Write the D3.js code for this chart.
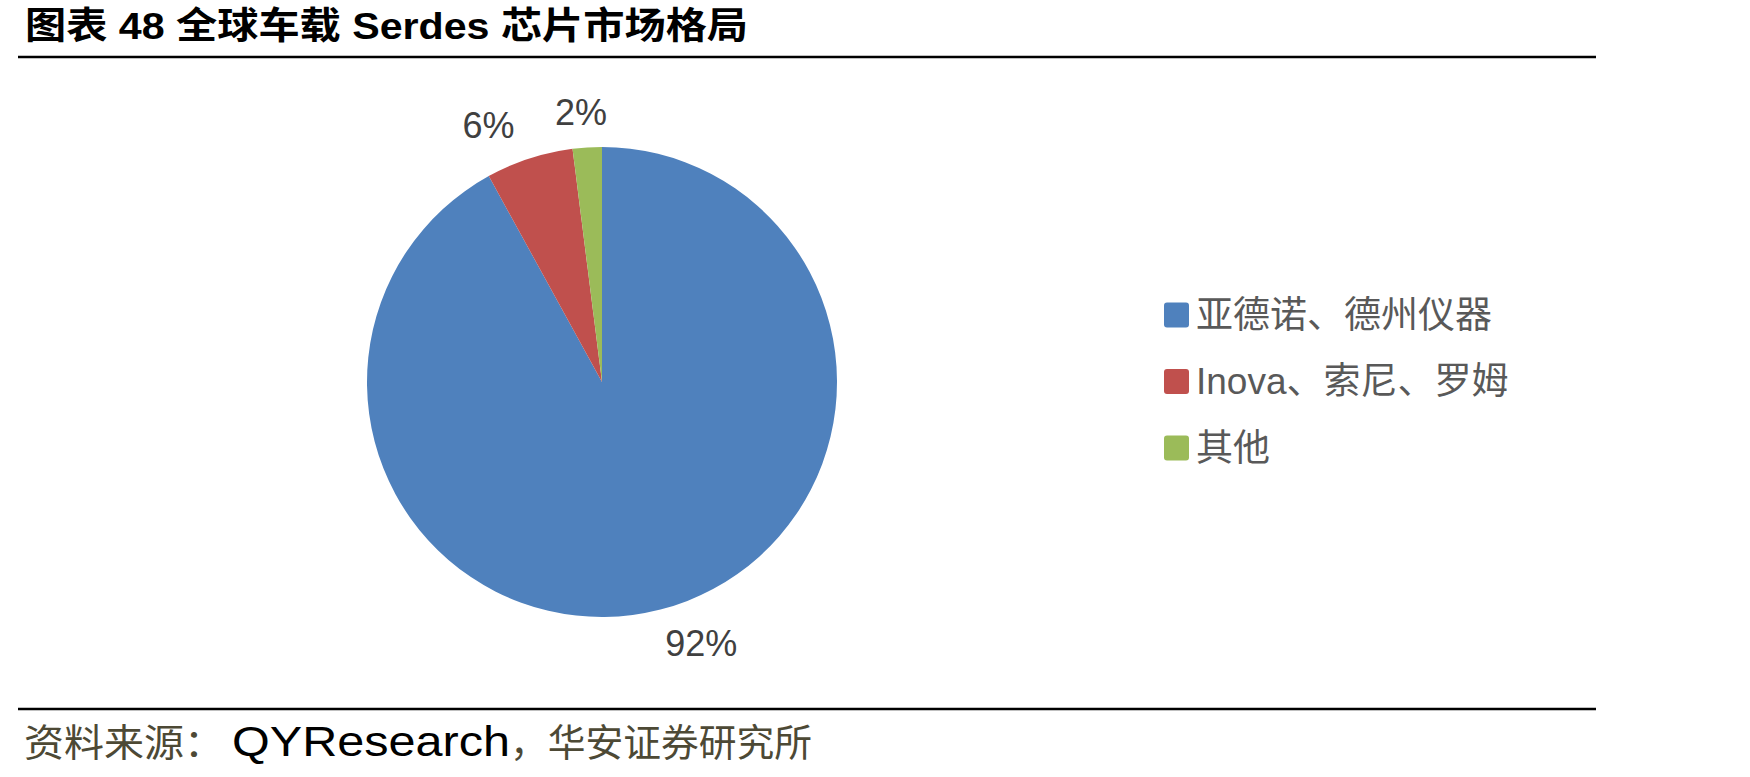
<!DOCTYPE html>
<html lang="zh">
<head>
<meta charset="UTF-8">
<title>全球车载 Serdes 芯片市场格局</title>
<style>
  body { margin: 0; background: #fff; }
  svg text { font-family: "Liberation Sans", Arial, "Noto Sans CJK SC", sans-serif; }
</style>
</head>
<body>
<div id="chart"></div>
<script src="https://d3js.org/d3.v7.min.js"></script>
<script>
// data
const categories = ["亚德诺、德州仪器", "Inova、索尼、罗姆", "其他"];
const shares = [92, 6, 2];
const colors = ["#4F81BD", "#C0504D", "#9BBB59"];
const titleText = "图表 48 全球车载 Serdes 芯片市场格局";
const sourceParts = ["资料来源：", "QYResearch", "，华安证券研究所"];

const W = 1750, H = 777;
const cx = 602, cy = 382, R = 235;

const svg = d3.select("#chart").append("svg")
    .attr("width", W)
    .attr("height", H);

// title + rules
svg.append("text")
    .attr("x", 25).attr("y", 39)
    .attr("font-size", 37)
    .attr("font-weight", "bold")
    .attr("fill", "#000")
    .attr("textLength", 723)
    .attr("lengthAdjust", "spacingAndGlyphs")
    .text(titleText);

svg.append("line")
    .attr("x1", 18).attr("x2", 1596)
    .attr("y1", 57).attr("y2", 57)
    .attr("stroke", "#000").attr("stroke-width", 2.5);

svg.append("line")
    .attr("x1", 18).attr("x2", 1596)
    .attr("y1", 709).attr("y2", 709)
    .attr("stroke", "#000").attr("stroke-width", 2.5);

// source line, three pieces with their own widths
const srcLayout = [
    { x: 24, len: 200, size: 38, fill: "#4d4935" },
    { x: 232, len: 278, size: 42, fill: "#000" },
    { x: 510, len: 302, size: 38, fill: "#4d4935" }
];
svg.selectAll("text.src")
    .data(sourceParts)
    .enter().append("text")
    .attr("class", "src")
    .attr("x", (d, i) => srcLayout[i].x)
    .attr("y", 756)
    .attr("font-size", (d, i) => srcLayout[i].size)
    .attr("fill", (d, i) => srcLayout[i].fill)
    .attr("textLength", (d, i) => srcLayout[i].len)
    .attr("lengthAdjust", "spacingAndGlyphs")
    .text(d => d);

// pie
const pie = d3.pie().sort(null).value(d => d);
const arcs = pie(shares);
const arc = d3.arc().innerRadius(0).outerRadius(R);
const labelArc = d3.arc().innerRadius(270).outerRadius(270);

const g = svg.append("g").attr("transform", `translate(${cx},${cy})`);

g.selectAll("path.slice")
    .data(arcs)
    .enter().append("path")
    .attr("class", "slice")
    .attr("d", arc)
    .attr("fill", (d, i) => colors[i]);

g.selectAll("text.lbl")
    .data(arcs)
    .enter().append("text")
    .attr("class", "lbl")
    .attr("font-size", 36)
    .attr("fill", "#404040")
    .attr("text-anchor", "middle")
    .attr("dominant-baseline", "central")
    .text(d => d.data + "%")
    .each(function (d) {
        const [x, y] = labelArc.centroid(d);
        const mid = (d.startAngle + d.endAngle) / 2;
        const s = Math.sin(mid);
        const w = this.getComputedTextLength();
        const dx = Math.abs(s) > 0.1 ? Math.sign(s) * w / 2 : 0;
        d3.select(this).attr("x", x + dx - 4).attr("y", y);
    });

// legend
const legend = svg.append("g").attr("transform", "translate(1164,315)");
const item = legend.selectAll("g")
    .data(categories)
    .enter().append("g")
    .attr("transform", (d, i) => `translate(0,${i * 66.5})`);

item.append("rect")
    .attr("x", 0).attr("y", -12.5)
    .attr("width", 25).attr("height", 25)
    .attr("rx", 3)
    .attr("fill", (d, i) => colors[i]);

item.append("text")
    .attr("x", 32).attr("y", 0)
    .attr("dominant-baseline", "central")
    .attr("font-size", 37)
    .attr("fill", "#595959")
    .text(d => d);
</script>
</body>
</html>
